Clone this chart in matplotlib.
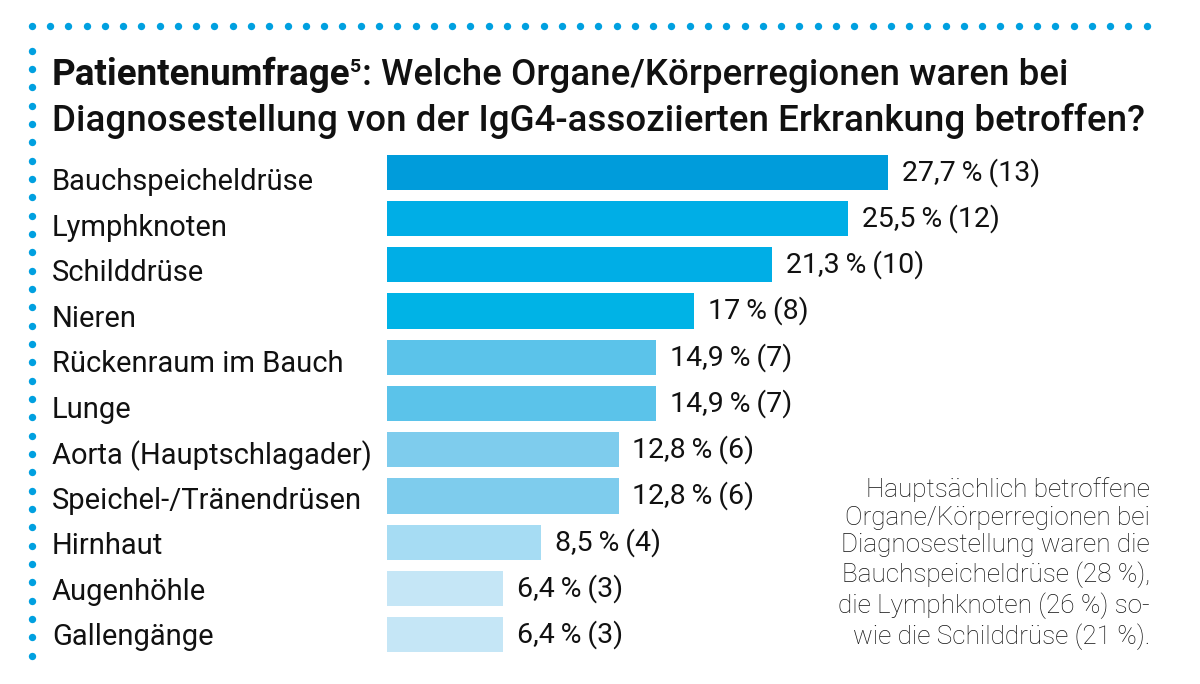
import matplotlib
matplotlib.use("Agg")
import matplotlib.pyplot as plt
import numpy as np

categories = ["Bauchspeicheldrüse", "Lymphknoten", "Schilddrüse", "Nieren",
              "Rückenraum im Bauch", "Lunge", "Aorta (Hauptschlagader)",
              "Speichel-/Tränendrüsen", "Hirnhaut", "Augenhöhle", "Gallengänge"]
values = [27.7, 25.5, 21.3, 17.0, 14.9, 14.9, 12.8, 12.8, 8.5, 6.4, 6.4]
counts = [13, 12, 10, 8, 7, 7, 6, 6, 4, 3, 3]
value_labels = ["27,7\u2009%\u2009(13)", "25,5\u2009%\u2009(12)", "21,3\u2009%\u2009(10)",
                "17\u2009%\u2009(8)", "14,9\u2009%\u2009(7)", "14,9\u2009%\u2009(7)",
                "12,8\u2009%\u2009(6)", "12,8\u2009%\u2009(6)", "8,5\u2009%\u2009(4)",
                "6,4\u2009%\u2009(3)", "6,4\u2009%\u2009(3)"]
bar_colors = ["#009cdb", "#00aee6", "#00aee6", "#00b3e6", "#5bc3ea", "#5bc3ea",
              "#7ecced", "#7ecced", "#a6dcf3", "#c5e6f6", "#c5e6f6"]
title_part1 = "Patientenumfrage"
title_sup = "5"
title_part2 = ": Welche Organe/Körperregionen waren bei"
title_line2 = "Diagnosestellung von der IgG4-assoziierten Erkrankung betroffen?"
note = ("Hauptsächlich betroffene\nOrgane/Körperregionen bei\nDiagnosestellung waren die\n"
        "Bauchspeicheldrüse (28 %),\ndie Lymphknoten (26 %) so-\nwie die Schilddrüse (21 %).")

plt.rcParams['font.family'] = ['Roboto', 'DejaVu Sans']
W, H = 1200, 684
fig = plt.figure(figsize=(W / 100, H / 100), dpi=100)
fig.patch.set_facecolor("white")

# background axes for decoration in pixel coords
bg = fig.add_axes([0, 0, 1, 1])
bg.set_xlim(0, W)
bg.set_ylim(H, 0)
bg.axis("off")
dot_color = "#00a0e0"
xs = np.linspace(31.7, 1146.7, 62)
bg.scatter(xs, np.full_like(xs, 26.0), s=28, color=dot_color, linewidths=0)
ys = 50.7 + 18.33 * np.arange(34)
bg.scatter(np.full_like(ys, 31.7), ys, s=28, color=dot_color, linewidths=0)

# title
tsize = 26.5
t1 = bg.text(52, 85, title_part1, fontsize=tsize, fontweight="bold", color="#111111",
             ha="left", va="baseline")
fig.canvas.draw()
r = fig.canvas.get_renderer()
bb = t1.get_window_extent(r)
x_end = bg.transData.inverted().transform((bb.x1, 0))[0]
t2 = bg.text(x_end - 0.5, 72, title_sup, fontsize=14, fontweight="bold", color="#111111",
             ha="left", va="baseline")
bb2 = t2.get_window_extent(r)
x_end2 = bg.transData.inverted().transform((bb2.x1, 0))[0]
bg.text(x_end2 + 0.5, 85, title_part2, fontsize=tsize, fontweight="medium", color="#111111",
        ha="left", va="baseline")
bg.text(52, 131, title_line2, fontsize=tsize, fontweight="medium", color="#111111",
        ha="left", va="baseline")

# bar axes
px_per_unit = 501 / 27.7
ax_left, ax_right = 387, 1150
ax_top, ax_bot = 149, 658
ax = fig.add_axes([ax_left / W, 1 - ax_bot / H, (ax_right - ax_left) / W, (ax_bot - ax_top) / H])
ax.set_xlim(0, (ax_right - ax_left) / px_per_unit)
ax.set_ylim(len(categories) - 0.5, -0.5)
ax.axis("off")
ax.patch.set_alpha(0)

y = np.arange(len(categories))
ax.barh(y, values, height=0.76, color=bar_colors, linewidth=0)

for i, (v, lab) in enumerate(zip(values, value_labels)):
    ax.annotate(lab, xy=(v, i), xytext=(10, 0), textcoords="offset points",
                fontsize=20.5, color="#111111", ha="left", va="center")

for i, cat in enumerate(categories):
    bg.text(52, 182.3 + 45.5 * i, cat, fontsize=21, color="#111111",
            ha="left", va="center")

# note
bg.text(1150, 477, note, fontsize=18.8, fontweight="light", color="#111111",
        ha="right", va="top", multialignment="right", linespacing=1.2)

fig.savefig("out.png", dpi=100, facecolor="white")
